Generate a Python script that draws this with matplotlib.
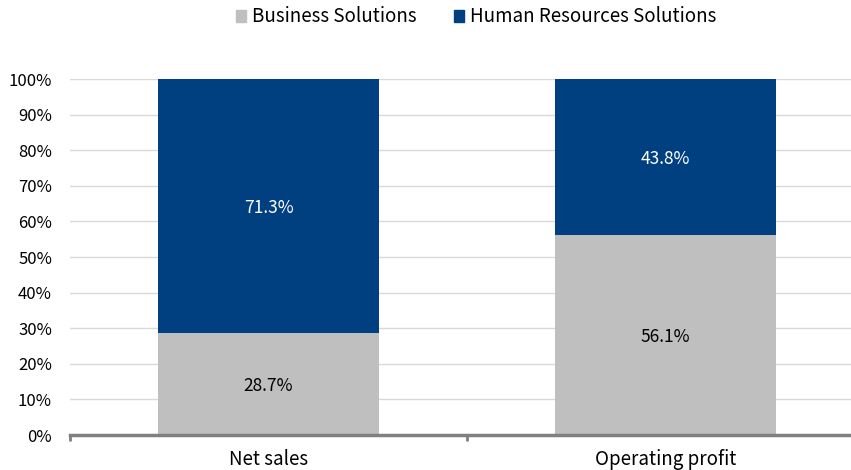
import matplotlib
matplotlib.use("Agg")
import matplotlib.pyplot as plt

plt.rcParams['font.family'] = ['Noto Sans CJK JP', 'DejaVu Sans']

categories = ["Net sales", "Operating profit"]
business = [28.7, 56.1]
human = [71.3, 43.8]
series_names = ["Business Solutions", "Human Resources Solutions"]
yticks = [0, 10, 20, 30, 40, 50, 60, 70, 80, 90, 100]

c_bus = "#bfbfbf"
c_hr = "#003f80"

fig = plt.figure(figsize=(8.51, 4.70), dpi=100)
ax = fig.add_axes([70/851, 35/470, 794/851, 356/470])

x = list(range(len(categories)))
w = 0.555
ax.bar(x, business, width=w, color=c_bus, label=series_names[0], zorder=2)
ax.bar(x, human, width=w, bottom=business, color=c_hr, label=series_names[1], zorder=2)

for i in x:
    ax.text(i, business[i] / 2, f"{business[i]:.1f}%", ha="center", va="center_baseline",
            fontsize=12.5, color="black", zorder=3)
    ax.text(i, business[i] + human[i] / 2, f"{human[i]:.1f}%", ha="center", va="center_baseline",
            fontsize=12.5, color="white", zorder=3)

ax.set_xlim(-0.5, 1.5)
ax.set_ylim(0, 100)
ax.set_yticks(yticks)
ax.set_yticklabels([f"{t}%" for t in yticks], fontsize=12)
ax.yaxis.grid(True, color="#d9d9d9", linewidth=1, zorder=0)
ax.tick_params(axis="y", length=0, pad=13)
ax.set_xticks(x)
ax.set_xticklabels(categories, fontsize=13.5)
ax.tick_params(axis="x", length=0, pad=10)
ax.set_xticks([-0.5, 0.5, 1.5], minor=True)
ax.tick_params(axis="x", which="minor", length=4, width=2, color="#808080")

for s in ["top", "right", "left"]:
    ax.spines[s].set_visible(False)
ax.spines["bottom"].set_color("#808080")
ax.spines["bottom"].set_linewidth(2.5)
ax.spines["bottom"].set_zorder(4)

handles = [plt.Rectangle((0, 0), 1, 1, color=c_bus), plt.Rectangle((0, 0), 1, 1, color=c_hr)]
fig.legend(handles, series_names, loc="center", bbox_to_anchor=(476/851, 1 - 17/470),
           ncol=2, frameon=False, fontsize=13.5, handlelength=0.55, handleheight=0.55,
           handletextpad=0.3, columnspacing=2.0)

fig.savefig("out.png", dpi=100)
